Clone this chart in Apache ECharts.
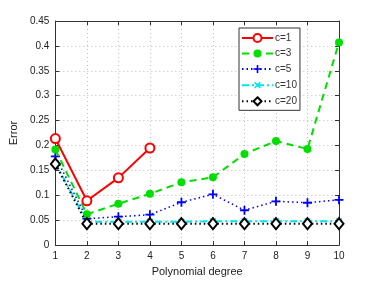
<!DOCTYPE html>
<html><head><meta charset="utf-8">
<script src="https://cdn.jsdelivr.net/npm/echarts@6/dist/echarts.min.js"></script>
<style>html,body{margin:0;padding:0;background:#fff}#c{width:374px;height:282px}</style>
</head><body><div id="c"></div>
<script>
const degrees = [1,2,3,4,5,6,7,8,9,10];
const c1  = [0.214, 0.089, 0.135, 0.195];
const c3  = [0.192, 0.062, 0.083, 0.103, 0.126, 0.136, 0.183, 0.209, 0.193, 0.407];
const c5  = [0.178, 0.053, 0.057, 0.061, 0.086, 0.102, 0.070, 0.088, 0.085, 0.091];
const c10 = [0.165, 0.047, 0.047, 0.047, 0.047, 0.048, 0.048, 0.048, 0.048, 0.048];
const c20 = [0.163, 0.043, 0.043, 0.043, 0.043, 0.043, 0.043, 0.043, 0.043, 0.043];
const names = ['c=1','c=3','c=5','c=10','c=20'];

const pair = arr => arr.map((v,i)=>[degrees[i], v]);
const font = 'Liberation Sans, Arial, sans-serif';
const plus = 'path://M4,0H6V4H10V6H6V10H4V6H0V4H4Z';

const chart = echarts.init(document.getElementById('c'));
const axisCommon = {
  axisLine:{show:true, onZero:false, lineStyle:{color:'#333', width:1}},
  axisTick:{show:true, inside:true, length:4, lineStyle:{color:'#333'}},
  axisLabel:{color:'#222', fontSize:10, fontFamily:font},
};
chart.setOption({
  animation:false,
  grid:{left:49, right:35, top:21, bottom:32, containLabel:false},
  legend:{
    orient:'vertical', left:239, top:28,
    data:names, itemWidth:31, itemHeight:10, itemGap:5.5,
    padding:[5,3,4,2],
    backgroundColor:'#fff', borderColor:'#333', borderWidth:1, borderRadius:0,
    textStyle:{fontSize:10, fontFamily:font, color:'#333', padding:[0,0,0,-3]}
  },
  xAxis:[
    Object.assign({type:'value', min:1, max:10, interval:1, position:'bottom',
      name:'Polynomial degree', nameLocation:'middle', nameGap:16,
      nameTextStyle:{fontSize:11, fontFamily:font, color:'#222'},
      splitLine:{show:true, lineStyle:{color:'#bbb', type:[1,3]}}}, axisCommon,
      {axisLabel:{color:'#222', fontSize:10, fontFamily:font, margin:6}}),
    Object.assign({type:'value', min:1, max:10, interval:1, position:'top',
      splitLine:{show:false}}, axisCommon, {axisLabel:{show:false}})
  ],
  yAxis:[
    Object.assign({type:'value', min:0, max:0.45, interval:0.05, position:'left',
      name:'Error', nameLocation:'middle', nameGap:29,
      nameTextStyle:{fontSize:11, fontFamily:font, color:'#222'},
      splitLine:{show:true, lineStyle:{color:'#bbb', type:[1,3]}}}, axisCommon,
      {axisLabel:{color:'#222', fontSize:10, fontFamily:font, margin:6}}),
    Object.assign({type:'value', min:0, max:0.45, interval:0.05, position:'right',
      splitLine:{show:false}}, axisCommon, {axisLabel:{show:false}})
  ],
  series:[
    {name:names[0], type:'line', data:pair(c1), symbol:'circle', symbolSize:9,
      lineStyle:{color:'#f00', width:2, type:'solid'},
      itemStyle:{color:'#fff', borderColor:'#f00', borderWidth:2}, z:5},
    {name:names[1], type:'line', data:pair(c3), symbol:'circle', symbolSize:8,
      lineStyle:{color:'#00e000', width:2, type:[7,5]},
      itemStyle:{color:'#00e000', borderColor:'#00e000', borderWidth:0}, z:4},
    {name:names[2], type:'line', data:pair(c5), symbol:plus, symbolSize:9,
      lineStyle:{color:'#0000ff', width:1.5, type:[1.5,3]},
      itemStyle:{color:'#0000ff', borderWidth:0}, z:3},
    {name:names[3], type:'line', data:pair(c10), symbol:plus, symbolSize:8, symbolRotate:45,
      lineStyle:{color:'#00e5ee', width:2, type:[7,3,2,3]},
      itemStyle:{color:'#00e5ee', borderWidth:0}, z:2},
    {name:names[4], type:'line', data:pair(c20), symbol:'diamond', symbolSize:[9,11],
      lineStyle:{color:'#000', width:2, type:[1.5,3]},
      itemStyle:{color:'#fff', borderColor:'#000', borderWidth:2}, z:6}
  ]
});
</script></body></html>
